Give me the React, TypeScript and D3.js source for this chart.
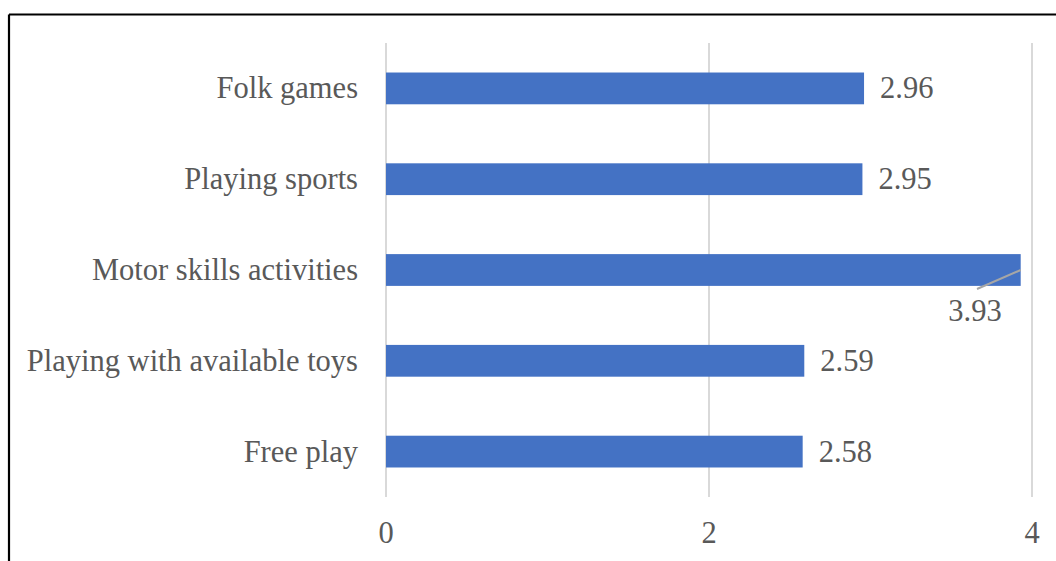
import React from "react";
import * as d3 from "d3";

const categories = ["Folk games", "Playing sports", "Motor skills activities", "Playing with available toys", "Free play"];
const values = [2.96, 2.95, 3.93, 2.59, 2.58];
const xTicks = [0, 2, 4];

export default function App() {
  const W = 1056, H = 561;
  const x = d3.scaleLinear().domain([0, 4]).range([386, 1032]);
  const y = d3.scaleBand().domain(categories).range([43, 497]).paddingInner(0.65).paddingOuter(0.325);
  const font = "'Liberation Serif', 'Times New Roman', serif";
  const txt = "#595959";
  const fs = 30.5;
  return (
    <svg width={W} height={H} style={{ position: "absolute", left: 0, top: 0, background: "#fff" }}>
      <rect x={0} y={0} width={W} height={H} fill="#fff" />
      <line x1={9} y1={14.5} x2={W} y2={14.5} stroke="#000" strokeWidth={2.2} />
      <line x1={9} y1={14.5} x2={9} y2={H} stroke="#000" strokeWidth={2.2} />
      {xTicks.map((t) => (
        <g key={t}>
          <line x1={x(t)} x2={x(t)} y1={43} y2={497} stroke="#d9d9d9" strokeWidth={2} />
          <text x={x(t)} y={543} textAnchor="middle" fontFamily={font} fontSize={fs} fill={txt}>{t}</text>
        </g>
      ))}
      {categories.map((c, i) => {
        const y0 = y(c)!;
        const bh = y.bandwidth();
        const v = values[i];
        const cy = y0 + bh / 2;
        const inside = x(v) > 1000;
        return (
          <g key={c}>
            <rect x={x(0)} y={y0} width={x(v) - x(0)} height={bh} fill="#4472c4" />
            <text x={358} y={cy + 10} textAnchor="end" fontFamily={font} fontSize={fs} fill={txt}>{c}</text>
            {inside ? (
              <g>
                <line x1={x(v)} y1={cy} x2={977} y2={cy + 19} stroke="#a6a6a6" strokeWidth={2} />
                <text x={975} y={cy + 51} textAnchor="middle" fontFamily={font} fontSize={fs} fill={txt}>{v.toFixed(2)}</text>
              </g>
            ) : (
              <text x={x(v) + 16} y={cy + 10} fontFamily={font} fontSize={fs} fill={txt}>{v.toFixed(2)}</text>
            )}
          </g>
        );
      })}
    </svg>
  );
}
